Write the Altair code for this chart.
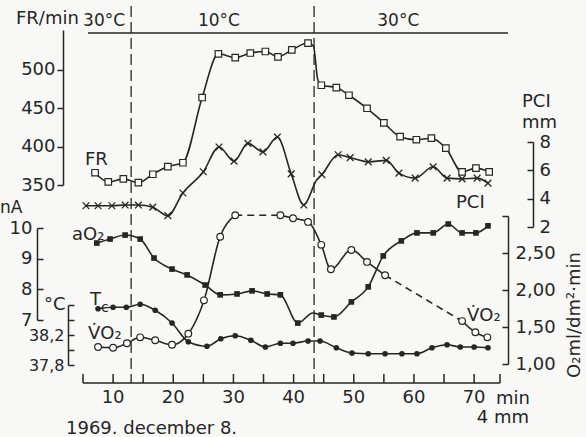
import altair as alt
import pandas as pd

# ---------------- data ----------------
fr_t = [7.0, 9.2, 11.7, 14.2, 16.6, 19.1, 21.6, 24.8, 27.5, 30.3, 32.8, 35.3, 37.4, 39.7,
        42.4, 44.6, 47.1, 49.2, 52.2, 55.0, 57.7, 60.4, 62.9, 65.3, 68.0, 70.3, 72.5]
fr_v = [366, 354, 358, 353, 364, 374, 379, 464, 521, 516, 522, 524, 517, 526,
        535, 480, 477, 467, 450, 431, 413, 409, 411, 398, 367, 372, 367]
fr_extra_t = [43.3, 44.0]          # curve points without a marker
fr_extra_v = [531, 488]

pci_t = [5.5, 7.5, 9.8, 12.0, 14.2, 16.6, 19.1, 21.6, 25.0, 27.6, 30.1, 32.4, 34.9, 37.3,
         39.6, 41.7, 44.7, 47.4, 49.4, 52.4, 55.4, 57.5, 60.2, 63.2, 65.5, 68.0, 70.5, 72.3]
pci_v = [3.5, 3.5, 3.5, 3.55, 3.55, 3.4, 2.8, 4.4, 5.9, 7.65, 6.65, 7.9, 7.3, 8.35,
         5.75, 3.55, 5.7, 7.1, 6.9, 6.6, 6.7, 5.8, 5.45, 6.25, 5.45, 5.4, 5.45, 5.1]
pci_extra_t = [43.8]
pci_extra_v = [5.3]

ao2_t = [7.3, 9.5, 12.0, 14.5, 16.8, 19.8, 22.3, 25.3, 27.8, 30.6, 33.1, 35.6, 37.8, 40.7,
         44.6, 46.7, 49.6, 52.4, 54.9, 57.9, 60.5, 63.2, 65.7, 68.0, 70.3, 72.3]
ao2_v = [9.51, 9.64, 9.77, 9.64, 9.02, 8.66, 8.47, 8.14, 7.82, 7.85, 7.95, 7.85, 7.82, 6.90,
         7.16, 7.10, 7.59, 8.08, 9.09, 9.58, 9.84, 9.84, 10.13, 9.84, 9.84, 10.07]
ao2_extra_t = [43.2]
ao2_extra_v = [7.23]

tc_t = [7.5, 10.0, 12.2, 14.5, 17.0, 19.8, 22.5, 25.6, 27.9, 30.3, 32.9, 35.3, 37.8, 39.9,
        42.4, 44.4, 47.1, 49.7, 52.4, 55.2, 58.0, 60.5, 63.0, 65.5, 67.7, 70.0, 72.3]
tc_v = [38.55, 38.57, 38.57, 38.61, 38.53, 38.36, 38.11, 38.05, 38.15, 38.19, 38.13, 38.04,
        38.09, 38.09, 38.12, 38.12, 38.03, 37.96, 37.95, 37.95, 37.95, 37.95, 38.03, 38.07,
        38.04, 38.04, 38.03]

vo2_t = [7.5, 10.0, 12.3, 14.5, 17.0, 19.8, 22.5, 25.1, 27.8, 30.3, 37.8, 39.9, 42.4, 44.6,
         46.2, 49.6, 52.2, 55.2, 68.0, 70.2, 72.2]
vo2_v = [1.23, 1.22, 1.28, 1.36, 1.32, 1.26, 1.41, 1.86, 2.72, 3.01, 3.01, 2.97, 2.92, 2.61,
         2.28, 2.54, 2.38, 2.20, 1.58, 1.43, 1.36]
vo2_dash_from = [30.3, 55.2]       # dashed stretch starts after these points

change_t = [13.0, 43.4]            # bath temperature changes
phase_lbl = ["30°C", "10°C", "30°C"]
phase_t = [8.5, 27.6, 57.4]

x_ends = [5, 74.3]
x_ticks = [5, 10, 15, 20, 25, 30, 35, 40, 45, 50, 55, 60, 65, 70, 74.3]
x_labels = [10, 20, 30, 40, 50, 60, 70]
fr_ticks = [350, 400, 450, 500]
na_ticks = [7, 8, 9, 10]
tc_ticks = [37.8, 38.0, 38.2, 38.4, 38.6]
pci_ticks = [2, 4, 6, 8]
o2_ticks = [1.0, 1.5, 2.0, 2.5, 3.0]

# ---------------- styling ----------------
INK = "#262626"
BG = "#f8f8f6"
FONT = "DejaVu Sans"
FS = 18

ax_common = dict(grid=False, title=None, domainColor=INK, domainWidth=1.5, tickColor=INK,
                 tickWidth=1.5, labelColor=INK, labelFont=FONT,
                 labelFlush=False, labelOverlap=False)

x_scale = alt.Scale(domain=[5, 74.3], range=[83, 500], nice=False, zero=False)


def X():
    return alt.X("t:Q", scale=x_scale, axis=None)


def Y(dom, rng, axis=None):
    return alt.Y("v:Q", scale=alt.Scale(domain=dom, range=rng, nice=False, zero=False), axis=axis)


def df(t, v):
    return pd.DataFrame({"t": t, "v": v})


def line_df(t, v, et, ev):
    return pd.DataFrame({"t": list(t) + list(et), "v": list(v) + list(ev)}).sort_values("t")


FR_D, FR_R = [350, 552], [185, 30]
NA_D, NA_R = [7, 10], [320, 228]
TC_D, TC_R = [37.8, 38.6], [365, 305]
PCI_D, PCI_R = [2, 8], [227, 142]
O2_D, O2_R = [1, 3], [364, 216]

fr_axis = alt.Axis(orient="left", offset=-63, values=fr_ticks, tickSize=6, labelPadding=2,
                   labelAlign="right", labelFontSize=FS, **ax_common)
na_axis = alt.Axis(orient="right", offset=37 - 586, values=na_ticks, tickSize=6,
                   labelPadding=-11, labelAlign="right", labelFontSize=FS, **ax_common)
tc_axis = alt.Axis(orient="right", offset=68 - 586, values=tc_ticks, tickSize=6,
                   labelPadding=-10, labelAlign="right", labelFontSize=16,
                   labelExpr="(abs(datum.value-38.2)<0.01 || abs(datum.value-37.8)<0.01) ? replace(format(datum.value,'.1f'),'.',',') : ''",
                   **ax_common)
pci_axis = alt.Axis(orient="left", offset=-533, values=pci_ticks, tickSize=6,
                    labelPadding=-12, labelAlign="left", labelFontSize=FS, **ax_common)
o2_axis = alt.Axis(orient="left", offset=-508, values=o2_ticks, tickSize=6,
                   labelPadding=-13, labelAlign="left", labelFontSize=FS,
                   labelExpr="datum.value > 2.9 ? '' : replace(format(datum.value,'.2f'),'.',',')",
                   **ax_common)

LW = 1.6
line_kw = dict(color=INK, strokeWidth=LW, interpolate="monotone")

layers = []

# time axis drawn through the x scale: base line, upright ticks, labels below
layers.append(alt.Chart(pd.DataFrame({"t": [x_ends[0]], "t2": [x_ends[1]]})).mark_rule(
    color=INK, strokeWidth=1.5).encode(x=X(), x2="t2:Q", y=alt.value(383)))
layers.append(alt.Chart(pd.DataFrame({"t": x_ticks})).mark_rule(
    color=INK, strokeWidth=1.5).encode(x=X(), y=alt.value(374), y2=alt.value(383)))
layers.append(alt.Chart(pd.DataFrame({"t": x_labels, "s": [str(v) for v in x_labels]}))
              .mark_text(font=FONT, fontSize=FS, color=INK, align="center", baseline="middle")
              .encode(x=X(), y=alt.value(398), text="s:N"))

# FR
layers.append(alt.Chart(line_df(fr_t, fr_v, fr_extra_t, fr_extra_v)).mark_line(**line_kw)
              .encode(x=X(), y=Y(FR_D, FR_R, fr_axis)))
layers.append(alt.Chart(df(fr_t, fr_v)).mark_point(shape="square", filled=True, fill="white",
              stroke=INK, strokeWidth=1.2, size=42, opacity=1)
              .encode(x=X(), y=Y(FR_D, FR_R)))

# PCI
layers.append(alt.Chart(line_df(pci_t, pci_v, pci_extra_t, pci_extra_v)).mark_line(**line_kw)
              .encode(x=X(), y=Y(PCI_D, PCI_R, pci_axis)))
layers.append(alt.Chart(df(pci_t, pci_v)).mark_point(shape="M-1,-1L1,1M-1,1L1,-1", filled=False,
              stroke=INK, strokeWidth=1.3, size=45, opacity=1)
              .encode(x=X(), y=Y(PCI_D, PCI_R)))

# aO2
layers.append(alt.Chart(line_df(ao2_t, ao2_v, ao2_extra_t, ao2_extra_v)).mark_line(**line_kw)
              .encode(x=X(), y=Y(NA_D, NA_R, na_axis)))
layers.append(alt.Chart(df(ao2_t, ao2_v)).mark_point(shape="square", filled=True, color=INK,
              size=32, opacity=1)
              .encode(x=X(), y=Y(NA_D, NA_R)))

# Tc
layers.append(alt.Chart(df(tc_t, tc_v)).mark_line(**line_kw)
              .encode(x=X(), y=Y(TC_D, TC_R, tc_axis)))
layers.append(alt.Chart(df(tc_t, tc_v)).mark_point(shape="circle", filled=True, color=INK,
              size=32, opacity=1)
              .encode(x=X(), y=Y(TC_D, TC_R)))

# VO2 with dashed stretches
rows = []
seg = 0
cur = [(vo2_t[0], vo2_v[0])]
for i in range(1, len(vo2_t)):
    if vo2_t[i - 1] in vo2_dash_from:
        for p in cur:
            rows.append(dict(t=p[0], v=p[1], seg=seg, style="solid"))
        seg += 1
        for p in [(vo2_t[i - 1], vo2_v[i - 1]), (vo2_t[i], vo2_v[i])]:
            rows.append(dict(t=p[0], v=p[1], seg=seg, style="dashed"))
        seg += 1
        cur = [(vo2_t[i], vo2_v[i])]
    else:
        cur.append((vo2_t[i], vo2_v[i]))
for p in cur:
    rows.append(dict(t=p[0], v=p[1], seg=seg, style="solid"))
vo2_lines = pd.DataFrame(rows)

layers.append(alt.Chart(vo2_lines).mark_line(**line_kw).encode(
    x=X(), y=Y(O2_D, O2_R, o2_axis), detail="seg:N",
    strokeDash=alt.StrokeDash("style:N", scale=alt.Scale(domain=["solid", "dashed"],
                              range=[[1, 0], [7, 5]]), legend=None)))
layers.append(alt.Chart(df(vo2_t, vo2_v)).mark_point(shape="circle", filled=True, fill="white",
              stroke=INK, strokeWidth=1.2, size=45, opacity=1)
              .encode(x=X(), y=Y(O2_D, O2_R)))

# temperature change lines
layers.append(alt.Chart(pd.DataFrame({"t": change_t})).mark_rule(color=INK, strokeWidth=1.3,
              strokeDash=[11, 5]).encode(x=X(), y=alt.value(6), y2=alt.value(383)))
layers.append(alt.Chart(pd.DataFrame({"k": [0]})).mark_rule(color=INK, strokeWidth=1.3)
              .encode(x=alt.value(88), x2=alt.value(508), y=alt.value(33)))
layers.append(alt.Chart(pd.DataFrame({"t": phase_t, "s": phase_lbl})).mark_text(
    font=FONT, fontSize=17, color=INK, align="center", baseline="middle")
    .encode(x=X(), y=alt.value(21), text="s:N"))


def txt(s, x, y, size=FS, align="left", baseline="alphabetic", angle=0):
    return alt.Chart(pd.DataFrame({"s": [s]})).mark_text(
        font=FONT, fontSize=size, color=INK, align=align, baseline=baseline, angle=angle
    ).encode(x=alt.value(x), y=alt.value(y), text="s:N")


layers += [
    txt("FR/min", 16, 24),
    txt("FR", 85, 165),
    txt("PCI", 456, 208),
    txt("aO₂", 72, 240),
    txt("T", 90, 305),
    txt("c", 101, 312, size=14),
    txt("V̇O₂", 88, 339),
    txt("V̇O₂", 467, 321),
    txt("nA", 0, 213, size=17),
    txt("°C", 44, 310),
    txt("PCI", 522, 107),
    txt("mm", 522, 128),
    txt("O₂ml/dm²·min", 575, 315, size=18, align="center", baseline="middle", angle=270),
    txt("min", 496, 404),
    txt("4 mm", 529, 423, align="right"),
    txt("1969. december 8.", 66, 434),
]

chart = (alt.layer(*layers)
         .resolve_scale(y="independent")
         .resolve_axis(y="independent")
         .properties(width=586, height=437, background=BG, padding=0,
                     autosize=alt.AutoSizeParams(type="none"))
         .configure_view(strokeWidth=0))

chart.save("out.html", embed_options={"renderer": "svg", "actions": False})
